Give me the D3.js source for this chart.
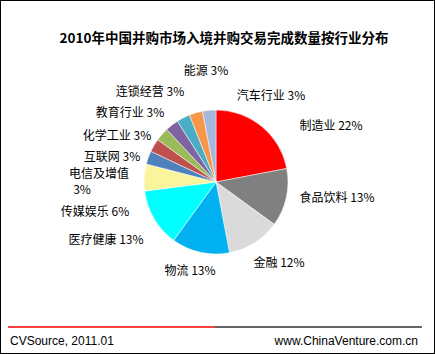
<!DOCTYPE html>
<html>
<head>
<meta charset="utf-8">
<script src="https://cdn.jsdelivr.net/npm/d3@7"></script>
<style>
  body { margin: 0; background: #fff; }
  text { font-family: "Liberation Sans", "Noto Sans CJK SC", sans-serif; }
</style>
</head>
<body>
<div id="chart"></div>
<script>
var categories = ['制造业', '食品饮料', '金融', '物流', '医疗健康', '传媒娱乐', '电信及增值',
	'互联网', '化学工业', '教育行业', '连锁经营', '能源', '汽车行业'];
var shares = [22, 13, 12, 13, 13, 6, 3, 3, 3, 3, 3, 3, 3];
var colors = ['#ff0000', '#808080', '#dadada', '#00b0f0', '#00ffff', '#faf59c', '#4f81bd',
	'#c0504d', '#9bbb59', '#8064a2', '#4bacc6', '#f79646', '#a7b7db'];
var title = '2010年中国并购市场入境并购交易完成数量按行业分布';
var source = 'CVSource, 2011.01';
var site = 'www.ChinaVenture.com.cn';

// label centres, offset from pie centre (Excel moved them around)
var labelOffsets = {
	'制造业': [115, -56], '食品饮料': [121, 16], '金融': [63, 81], '物流': [-26, 89],
	'医疗健康': [-110, 58], '传媒娱乐': [-121, 30], '电信及增值': [-117, 0],
	'互联网': [-104, -25], '化学工业': [-99, -46], '教育行业': [-86, -69],
	'连锁经营': [-66, -90], '能源': [-10, -111], '汽车行业': [55, -86]
};

var width = 435, height = 354;
var cx = 216, cy = 182, radius = 72;

var svg = d3.select('#chart').append('svg')
	.attr('width', width)
	.attr('height', height);

svg.append('rect')
	.attr('x', 0.5).attr('y', 0.5)
	.attr('width', width - 1).attr('height', height - 1)
	.attr('fill', '#fff').attr('stroke', '#000');

svg.append('text')
	.attr('x', 224).attr('y', 43)
	.attr('text-anchor', 'middle')
	.attr('font-size', '13.5px')
	.attr('font-weight', 'bold')
	.style('font-family', '"Noto Sans CJK SC", sans-serif')
	.text(title);

var data = categories.map(function (c, i) { return {name: c, value: shares[i], color: colors[i]}; });

var pie = d3.pie().sort(null).value(function (d) { return d.value; });
var arc = d3.arc().innerRadius(0).outerRadius(radius);

var g = svg.append('g').attr('transform', 'translate(' + cx + ',' + cy + ')');

g.selectAll('.slice')
	.data(pie(data))
	.enter()
	.append('path')
		.attr('class', 'slice')
		.attr('d', arc)
		.attr('fill', function (d) { return d.data.color; })
		.attr('stroke', '#fff')
		.attr('stroke-width', 0.5);

var labels = g.selectAll('.lbl')
	.data(pie(data))
	.enter()
	.append('text')
		.attr('class', 'lbl')
		.attr('text-anchor', 'middle')
		.attr('font-size', '12px')
		.attr('fill', '#000')
		.style('font-family', '"Noto Sans CJK SC", sans-serif');

labels.each(function (d) {
	var off = labelOffsets[d.data.name];
	var t = d3.select(this);
	if (d.data.name == '电信及增值') {
		t.append('tspan').attr('x', off[0]).attr('y', off[1] - 8 + 4).text(d.data.name);
		t.append('tspan').attr('x', off[0] - 17).attr('y', off[1] + 8 + 4).text(d.data.value + '%');
	} else {
		t.attr('x', off[0]).attr('y', off[1] + 4).text(d.data.name + ' ' + d.data.value + '%');
	}
});

// footer
svg.append('line')
	.attr('x1', 8).attr('x2', 215).attr('y1', 327).attr('y2', 327)
	.attr('stroke', '#ff0000').attr('stroke-width', 1.5);
svg.append('line')
	.attr('x1', 215).attr('x2', 422).attr('y1', 327).attr('y2', 327)
	.attr('stroke', '#333').attr('stroke-width', 1.5);

svg.append('text')
	.attr('x', 10).attr('y', 345)
	.attr('font-size', '12px')
	.text(source);
svg.append('text')
	.attr('x', 418).attr('y', 345)
	.attr('text-anchor', 'end')
	.attr('font-size', '12px')
	.text(site);
</script>
</body>
</html>
